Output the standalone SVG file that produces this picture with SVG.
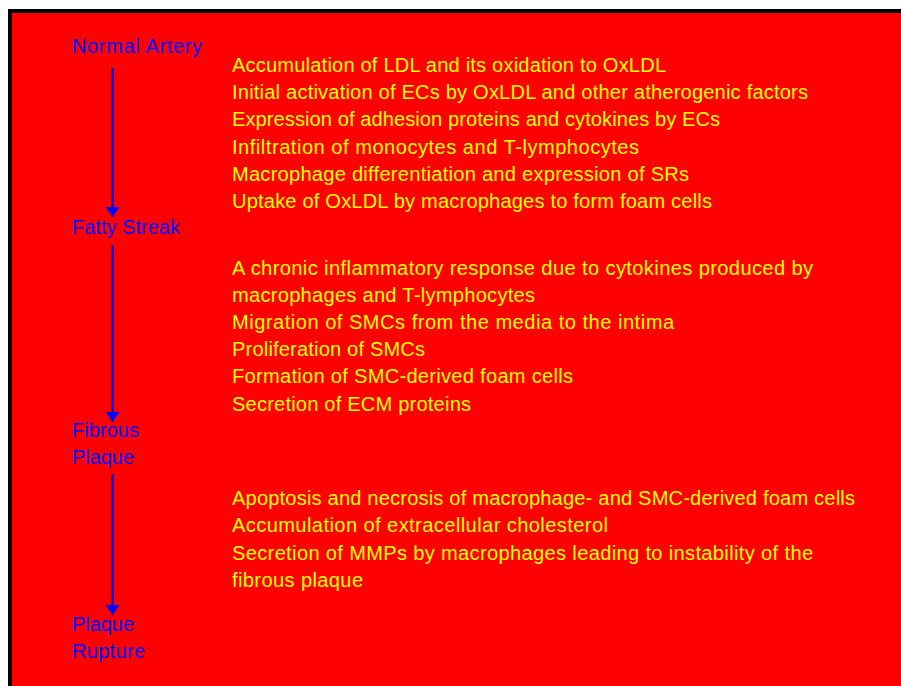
<svg xmlns="http://www.w3.org/2000/svg" width="901" height="686" viewBox="0 0 901 686">
<defs>
<style>
.y{fill:#FFFF00;font-family:"Liberation Sans",Arial,sans-serif;font-size:20px}
.b{fill:#0000FF;font-family:"Liberation Sans",Arial,sans-serif;font-size:20px}
.c{stroke:#0000FF;stroke-width:3;fill:none}
</style>
<marker id="ah" viewBox="0 0 10 14" refX="10" refY="7" markerWidth="10" markerHeight="14" markerUnits="userSpaceOnUse" orient="auto">
<path d="M0,0 L10,7 L0,14 Z" fill="#0000FF"/>
</marker>
</defs>
<rect x="10" y="11" width="900" height="690" fill="#FF0000" stroke="#000" stroke-width="4"/>
<g id="connectors">
<line class="c" x1="112.5" y1="68" x2="112.5" y2="217" marker-end="url(#ah)"/>
<line class="c" x1="112.5" y1="245" x2="112.5" y2="422" marker-end="url(#ah)"/>
<line class="c" x1="112.5" y1="474" x2="112.5" y2="615" marker-end="url(#ah)"/>
</g>
<g id="normal-artery"><text class="b" x="72" y="53" textLength="130">Normal Artery</text></g>
<g id="fatty-streak"><text class="b" x="72" y="234" textLength="108">Fatty Streak</text></g>
<g id="fibrous-plaque"><text class="b" x="72" y="437" textLength="67">Fibrous</text><text class="b" x="72" y="464" textLength="62">Plaque</text></g>
<g id="plaque-rupture"><text class="b" x="72" y="631" textLength="62">Plaque</text><text class="b" x="72" y="658" textLength="73">Rupture</text></g>
<g id="steps-1">
<text class="y" x="232" y="72" textLength="434">Accumulation of LDL and its oxidation to OxLDL</text>
<text class="y" x="232" y="99" textLength="576">Initial activation of ECs by OxLDL and other atherogenic factors</text>
<text class="y" x="232" y="126" textLength="488">Expression of adhesion proteins and cytokines by ECs</text>
<text class="y" x="232" y="154" textLength="407">Infiltration of monocytes and T-lymphocytes</text>
<text class="y" x="232" y="181" textLength="457">Macrophage differentiation and expression of SRs</text>
<text class="y" x="232" y="208" textLength="480">Uptake of OxLDL by macrophages to form foam cells</text>
</g>
<g id="steps-2">
<text class="y" x="232" y="275" textLength="581">A chronic inflammatory response due to cytokines produced by</text>
<text class="y" x="232" y="302" textLength="303">macrophages and T-lymphocytes</text>
<text class="y" x="232" y="329" textLength="442">Migration of SMCs from the media to the intima</text>
<text class="y" x="232" y="356" textLength="193">Proliferation of SMCs</text>
<text class="y" x="232" y="383" textLength="341">Formation of SMC-derived foam cells</text>
<text class="y" x="232" y="411" textLength="239">Secretion of ECM proteins</text>
</g>
<g id="steps-3">
<text class="y" x="232" y="505" textLength="623">Apoptosis and necrosis of macrophage- and SMC-derived foam cells</text>
<text class="y" x="232" y="532" textLength="376">Accumulation of extracellular cholesterol</text>
<text class="y" x="232" y="560" textLength="581">Secretion of MMPs by macrophages leading to instability of the</text>
<text class="y" x="232" y="587" textLength="131">fibrous plaque</text>
</g>
</svg>
